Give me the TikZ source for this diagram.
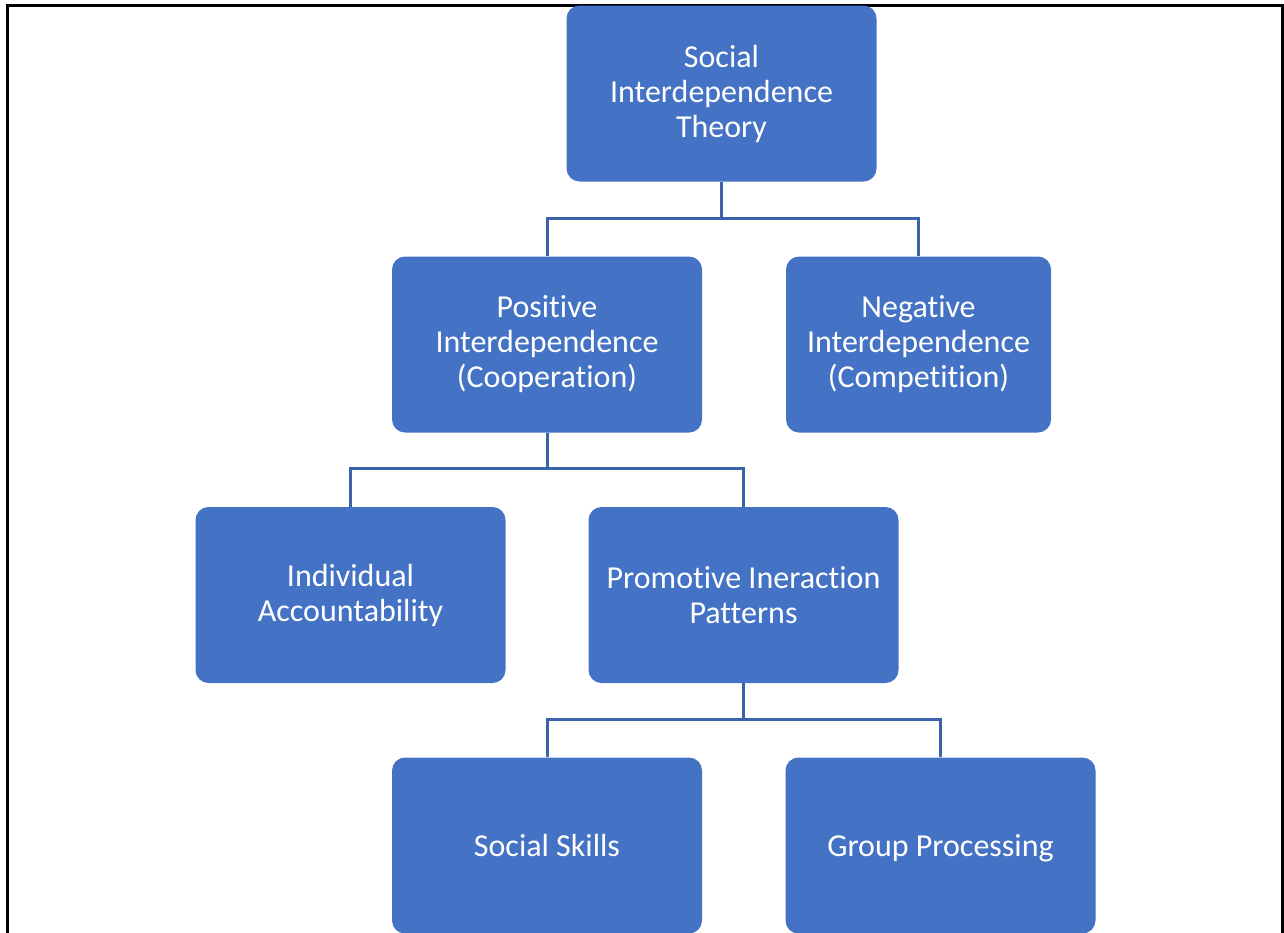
\documentclass[tikz,border=0pt]{standalone}
\usepackage{fontspec}
\setmainfont[Ligatures=NoCommon]{Carlito}
\usepackage{tikz}
\definecolor{boxblue}{HTML}{4472C4}
\definecolor{lineblue}{HTML}{3A63AB}

\begin{document}
\begin{tikzpicture}[x=1pt, y=-1pt, every node/.style = {shape=rectangle, rounded corners=13pt, fill=boxblue, text=white, align=center, inner sep=0pt, minimum width=310pt, minimum height=176pt, font=\fontsize{32}{35}\selectfont}, oneline/.style = {execute at begin node=\rule{0pt}{31pt}, execute at end node=\rule[-9pt]{0pt}{9pt}}, link/.style = {draw=lineblue, line width=3pt}]
                \useasboundingbox (0,0) rectangle (1284,932);
                \draw[line width=3pt] (7,940) -- (7,5) -- (1282,5) -- (1282,940);
                \node (theory) at (721.5,93.5) {Social\\Interdependence\\Theory};
                \node (positive) at (547,344.5) {Positive\\Interdependence\\(Cooperation)};
                \node[minimum width=265pt] (negative) at (918.5,344.5) {Negative\\Interdependence\\(Competition)};
                \node (individual) at (350.5,595) {Individual\\Accountability};
                \node (promotive) at (743.5,595) {Promotive Ineraction\\Patterns};
                \node[oneline] (skills) at (547,845.5) {Social Skills};
                \node[oneline] (processing) at (940.5,845.5) {Group Processing};
                \draw[link] (theory.south) -- ++(0,37) -| (positive.north);
                \draw[link] (theory.south) -- ++(0,37) -| (negative.north);
                \draw[link] (positive.south) -- ++(0,36) -| (individual.north);
                \draw[link] (positive.south) -- ++(0,36) -| (promotive.north);
                \draw[link] (promotive.south) -- ++(0,36) -| (skills.north);
                \draw[link] (promotive.south) -- ++(0,36) -| (processing.north);
            \end{tikzpicture}
\end{document}
